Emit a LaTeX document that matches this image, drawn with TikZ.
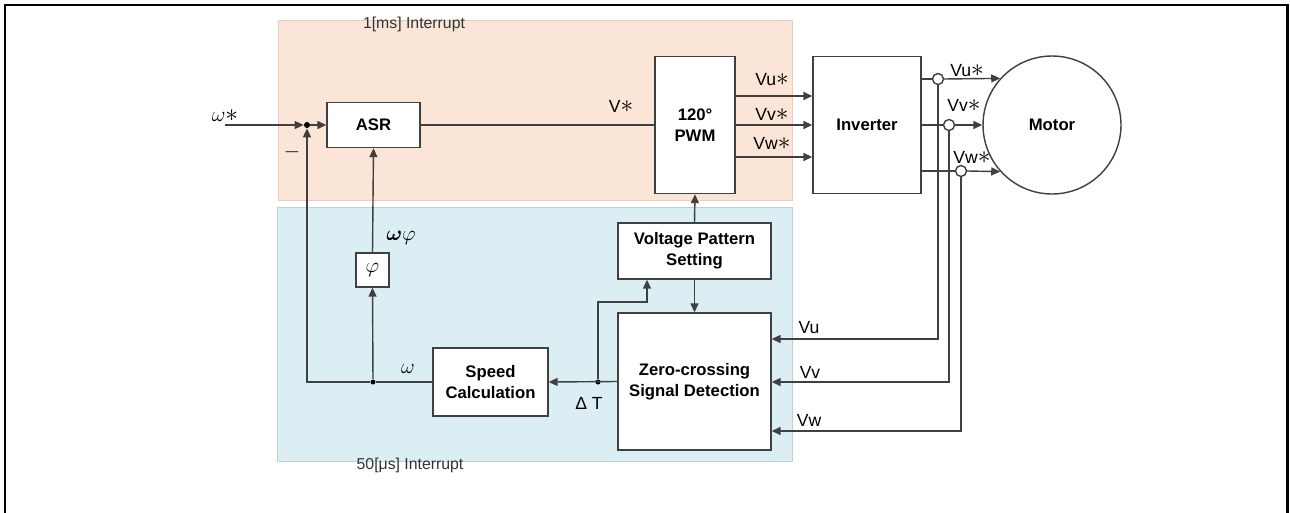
\documentclass[tikz,border=0pt]{standalone}
\usepackage{amsmath}
\usepackage{amssymb}
\usepackage{fontspec}
\setmainfont{Liberation Sans}
\usetikzlibrary{arrows.meta,positioning,calc}

\definecolor{msfill}{HTML}{FBE5D6}
\definecolor{msedge}{HTML}{E6CDBE}
\definecolor{usfill}{HTML}{DAEEF3}
\definecolor{usedge}{HTML}{BCD2DA}
\definecolor{wirecol}{HTML}{404040}

\newcommand{\refstar}{{\fontsize{14}{14}\selectfont$\ast$}}

\begin{document}
\begin{tikzpicture}[
            x=0.02cm, y=-0.02cm,
            block/.style={
                draw=wirecol,
                fill=white,
                line width=0.8pt,
                align=center,
                inner sep=1pt,
                font=\bfseries\fontsize{9.5}{12}\selectfont
            },
            siglabel/.style={
                inner sep=1pt,
                font=\fontsize{10}{12}\selectfont
            },
            irqlabel/.style={
                inner sep=1pt,
                text=black!80,
                font=\fontsize{9}{11}\selectfont
            },
            dot/.style={
                circle,
                fill=black,
                inner sep=0pt,
                minimum size=1mm
            },
            tap/.style={
                circle,
                draw=wirecol,
                fill=white,
                line width=0.8pt,
                inner sep=0pt,
                minimum size=2.2mm
            },
            conn/.style={
                draw=wirecol,
                line width=0.8pt
            },
            arr/.style={
                conn,
                -{Triangle[length=1.8mm,width=1.6mm]}
            }
        ]

            \useasboundingbox (0,0) rectangle (1290,513);

            % --- Outer frame ---
            \draw[line width=1.7pt] (5,520) -- (5,5) -- (1287,5) -- (1287,520);

            % --- Interrupt regions ---
            \fill[msfill, draw=msedge] (278,20) rectangle (792,200);
            \fill[usfill, draw=usedge] (277,207) rectangle (792,461);
            \node[irqlabel] (ms) at (414,24) {1[ms] Interrupt};
            \node[irqlabel] (us) at (410,465) {50[μs] Interrupt};

            % --- Blocks (1 ms) ---
            \node[block, minimum width=1.86cm, minimum height=0.9cm] (ASR) at (373.5,125) {ASR};
            \node[block, minimum width=1.6cm, minimum height=2.74cm] (PWM) at (695,125) {120°\\PWM};
            \node[block, minimum width=2.16cm, minimum height=2.74cm] (INV) at (867,125) {Inverter};
            \node[block, circle, minimum size=2.76cm, inner sep=0pt] (Motor) at (1052,125) {Motor};

            % --- Blocks (50 us) ---
            \node[block, minimum width=3.06cm, minimum height=1.12cm] (VPS) at (694.5,251) {Voltage Pattern\\Setting};
            \node[block, minimum width=3.06cm, minimum height=2.74cm] (ZC) at (694.5,381.5) {Zero-crossing\\Signal Detection};
            \node[block, minimum width=2.3cm, minimum height=1.36cm] (Speed) at (490.5,382) {Speed\\Calculation};
            \node[block, font=\fontsize{12}{12}\selectfont, minimum width=0.66cm, minimum height=0.68cm] (Phi) at (372.5,270) {$\varphi$};

            % --- Junctions ---
            \coordinate (wref) at (225,125);
            \node[dot, minimum size=1.2mm] (sum) at (307,125) {};
            \node[dot] (jw) at (373,382) {};
            \node[dot] (jt) at (598,382) {};
            \coordinate (bend) at (647,302);

            % --- Wire levels ---
            \coordinate (pu) at (0,96);
            \coordinate (pv) at (0,125);
            \coordinate (pw) at (0,157);
            \coordinate (su) at (0,339);
            \coordinate (sv) at (0,382);
            \coordinate (sw) at (0,431);

            % --- Speed loop ---
            \draw[arr] (wref) -- (sum);
            \draw[arr] (sum) -- (ASR.west);
            \draw[conn] (ASR.east) -- (PWM.west);
            \draw[conn] (Speed.west) -- (jw);
            \draw[arr] (jw) -| (sum.south);
            \draw[arr] (jw) -- (Phi.south);
            \draw[arr] (Phi.north) -- (ASR.south);

            \node[siglabel, font=\fontsize{12}{12}\selectfont] (lwref) at (225,116) {$\omega$\refstar};
            \node[siglabel, font=\fontsize{13}{13}\selectfont] (lminus) at (292,152) {$-$};
            \node[siglabel] (lvref) at (621,106) {V\refstar};
            \node[siglabel, font=\fontsize{12}{12}\selectfont] (lwphi) at (401,238) {$\boldsymbol{\omega}\varphi$};
            \node[siglabel, font=\fontsize{12}{12}\selectfont] (lw) at (408,369) {$\omega$};
            \node[siglabel] (ldt) at (589,403) {Δ T};

            % --- PWM to inverter ---
            \foreach \p in {pu,pv,pw} {
                \draw[arr] (PWM.east |- \p) -- (INV.west |- \p);
            }
            \node[siglabel] (lpu) at (772,80) {Vu\refstar};
            \node[siglabel] (lpv) at (772,114) {Vv\refstar};
            \node[siglabel] (lpw) at (772,143) {Vw\refstar};

            % --- Inverter to motor ---
            \node[tap] (cu) at (938,79) {};
            \node[tap] (cv) at (949,125) {};
            \node[tap] (cw) at (961,171) {};
            \draw[conn] (INV.east |- cu) -- (cu);
            \draw[conn] (INV.east |- cv) -- (cv);
            \draw[conn] (INV.east |- cw) -- (cw);
            \draw[arr] (cu.east) -- (Motor.138);
            \draw[arr] (cv.east) -- (Motor.west);
            \draw[arr] (cw.east) -- (Motor.222);
            \node[siglabel] (lmu) at (967,71) {Vu\refstar};
            \node[siglabel] (lmv) at (964,105) {Vv\refstar};
            \node[siglabel] (lmw) at (972,157) {Vw\refstar};

            % --- Phase voltage feedback ---
            \draw[arr] (cu.south) |- (ZC.east |- su);
            \draw[arr] (cv.south) |- (ZC.east |- sv);
            \draw[arr] (cw.south) |- (ZC.east |- sw);
            \node[siglabel] (lsu) at (809,328) {Vu};
            \node[siglabel] (lsv) at (810,372) {Vv};
            \node[siglabel] (lsw) at (809,420) {Vw};

            % --- Zero-crossing path ---
            \draw[arr] (ZC.west) -- (Speed.east);
            \draw[arr] (jt) |- (bend) -- (bend |- VPS.south);
            \draw[arr] (VPS.north) -- (PWM.south);
            \draw[arr] (VPS.south) -- (ZC.north);
        \end{tikzpicture}
\end{document}
